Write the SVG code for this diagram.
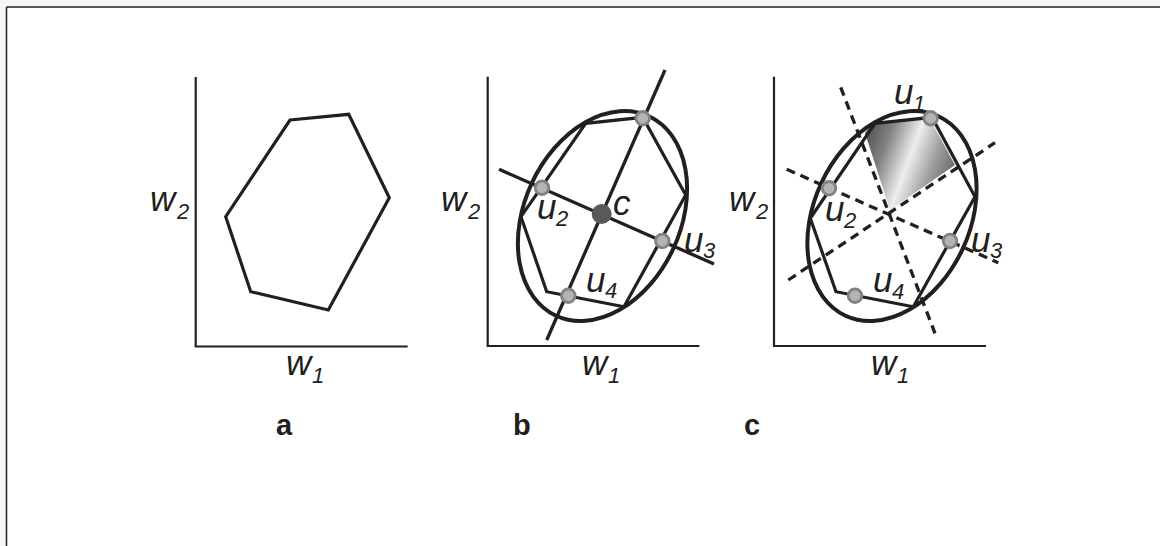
<svg xmlns="http://www.w3.org/2000/svg" width="1160" height="546" viewBox="0 0 1160 546">
<defs>
<style>
.ax{stroke:#231f20;stroke-width:2.2;fill:none}
.hex{stroke:#231f20;stroke-width:3.2;fill:none;stroke-linejoin:miter}
.ell{stroke:#231f20;stroke-width:4;fill:none}
.ln{stroke:#231f20;stroke-width:3.3;fill:none}
.dash{stroke:#231f20;stroke-width:3.3;fill:none;stroke-dasharray:9 6}
.pt{fill:#b3b4b6;stroke:#808285;stroke-width:2.8}
.it{font-family:"Liberation Sans",Arial,sans-serif;font-style:italic;font-size:35px;fill:#231f20}
.sub{font-family:"Liberation Sans",Arial,sans-serif;font-style:italic;font-size:22px;fill:#231f20}
.cap{font-family:"Liberation Sans",Arial,sans-serif;font-weight:bold;font-size:29px;fill:#231f20}
</style>
<linearGradient id="shade" gradientUnits="userSpaceOnUse" x1="860" y1="140" x2="955" y2="175">
<stop offset="0" stop-color="#4d4d4f"/>
<stop offset="0.25" stop-color="#808183"/>
<stop offset="0.52" stop-color="#eeeeee"/>
<stop offset="0.75" stop-color="#a0a1a3"/>
<stop offset="1" stop-color="#636466"/>
</linearGradient>
</defs>
<rect x="0" y="0" width="1160" height="546" fill="#ffffff"/>
<rect x="0" y="0" width="1160" height="6" fill="#f6f6f6"/>
<rect x="0" y="0" width="6" height="546" fill="#f6f6f6"/>
<g id="frame">
<line x1="6.5" y1="7" x2="1160" y2="7" stroke="#231f20" stroke-width="1.5"/>
<line x1="6.5" y1="7" x2="6.5" y2="546" stroke="#231f20" stroke-width="1.5"/>
</g>

<g id="panel-a">
<polyline class="ax" points="195.7,77 195.7,346.5 407.7,346.5"/>
<polygon class="hex" points="290,120 348.7,114.3 389.3,197.7 328.3,310 250.7,291.7 225.7,216.7"/>
<text class="it" x="150" y="211">w</text><text class="sub" x="177" y="219">2</text>
<text class="it" x="286" y="375">w</text><text class="sub" x="312" y="383">1</text>
<text class="cap" x="276" y="435">a</text>
</g>

<g id="panel-b">
<polyline class="ax" points="487.7,76.7 487.7,346 699.3,346"/>
<polygon class="hex" points="585.7,123.3 642.7,117.3 685.7,195 624,306.7 546.7,291.7 521,216.7"/>
<ellipse class="ell" cx="602.5" cy="216" rx="78" ry="110" transform="rotate(25 602.5 216)"/>
<line class="ln" x1="665" y1="70" x2="546.7" y2="340"/>
<line class="ln" x1="499" y1="169.3" x2="714" y2="264"/>
<circle class="pt" cx="642.7" cy="118.3" r="6.8"/>
<circle class="pt" cx="542" cy="187.7" r="6.8"/>
<circle class="pt" cx="662.3" cy="241" r="6.8"/>
<circle class="pt" cx="568.3" cy="295.7" r="6.8"/>
<circle cx="601.7" cy="214" r="10" fill="#58595b"/>
<text class="it" x="537" y="219">u</text><text class="sub" x="556" y="226">2</text>
<text class="it" x="613" y="215">c</text>
<text class="it" x="684" y="251.5">u</text><text class="sub" x="703" y="258">3</text>
<text class="it" x="586" y="291.7">u</text><text class="sub" x="605" y="298">4</text>
<text class="it" x="441" y="211">w</text><text class="sub" x="468" y="219">2</text>
<text class="it" x="582" y="375">w</text><text class="sub" x="608" y="383">1</text>
<text class="cap" x="513" y="435">b</text>
</g>

<g id="panel-c">
<polyline class="ax" points="774,76.7 774,346 986,346"/>
<polygon points="873,122 929,117 955,165 890,210 865,133" fill="url(#shade)"/>
<polygon class="hex" points="875,123.3 932,117.3 975,196.7 913.3,306.7 836,291.7 810.3,218.3"/>
<ellipse class="ell" cx="892" cy="216" rx="78" ry="110" transform="rotate(25 892 216)"/>
<line class="dash" x1="840.7" y1="87.3" x2="935" y2="333.3"/>
<line class="dash" x1="786.7" y1="169.3" x2="998.3" y2="262.7"/>
<line class="dash" x1="788.3" y1="280" x2="995" y2="142.7"/>
<circle class="pt" cx="930.7" cy="118.3" r="6.8"/>
<circle class="pt" cx="829" cy="188.3" r="6.8"/>
<circle class="pt" cx="950" cy="241" r="6.8"/>
<circle class="pt" cx="855" cy="295.7" r="6.8"/>
<text class="it" x="894" y="104">u</text><text class="sub" x="913" y="111">1</text>
<text class="it" x="825" y="221">u</text><text class="sub" x="844" y="228">2</text>
<text class="it" x="971" y="251.5">u</text><text class="sub" x="990" y="258">3</text>
<text class="it" x="873" y="292">u</text><text class="sub" x="892" y="299">4</text>
<text class="it" x="729" y="211">w</text><text class="sub" x="756" y="219">2</text>
<text class="it" x="871" y="375">w</text><text class="sub" x="897" y="383">1</text>
<text class="cap" x="744" y="435">c</text>
</g>
</svg>
